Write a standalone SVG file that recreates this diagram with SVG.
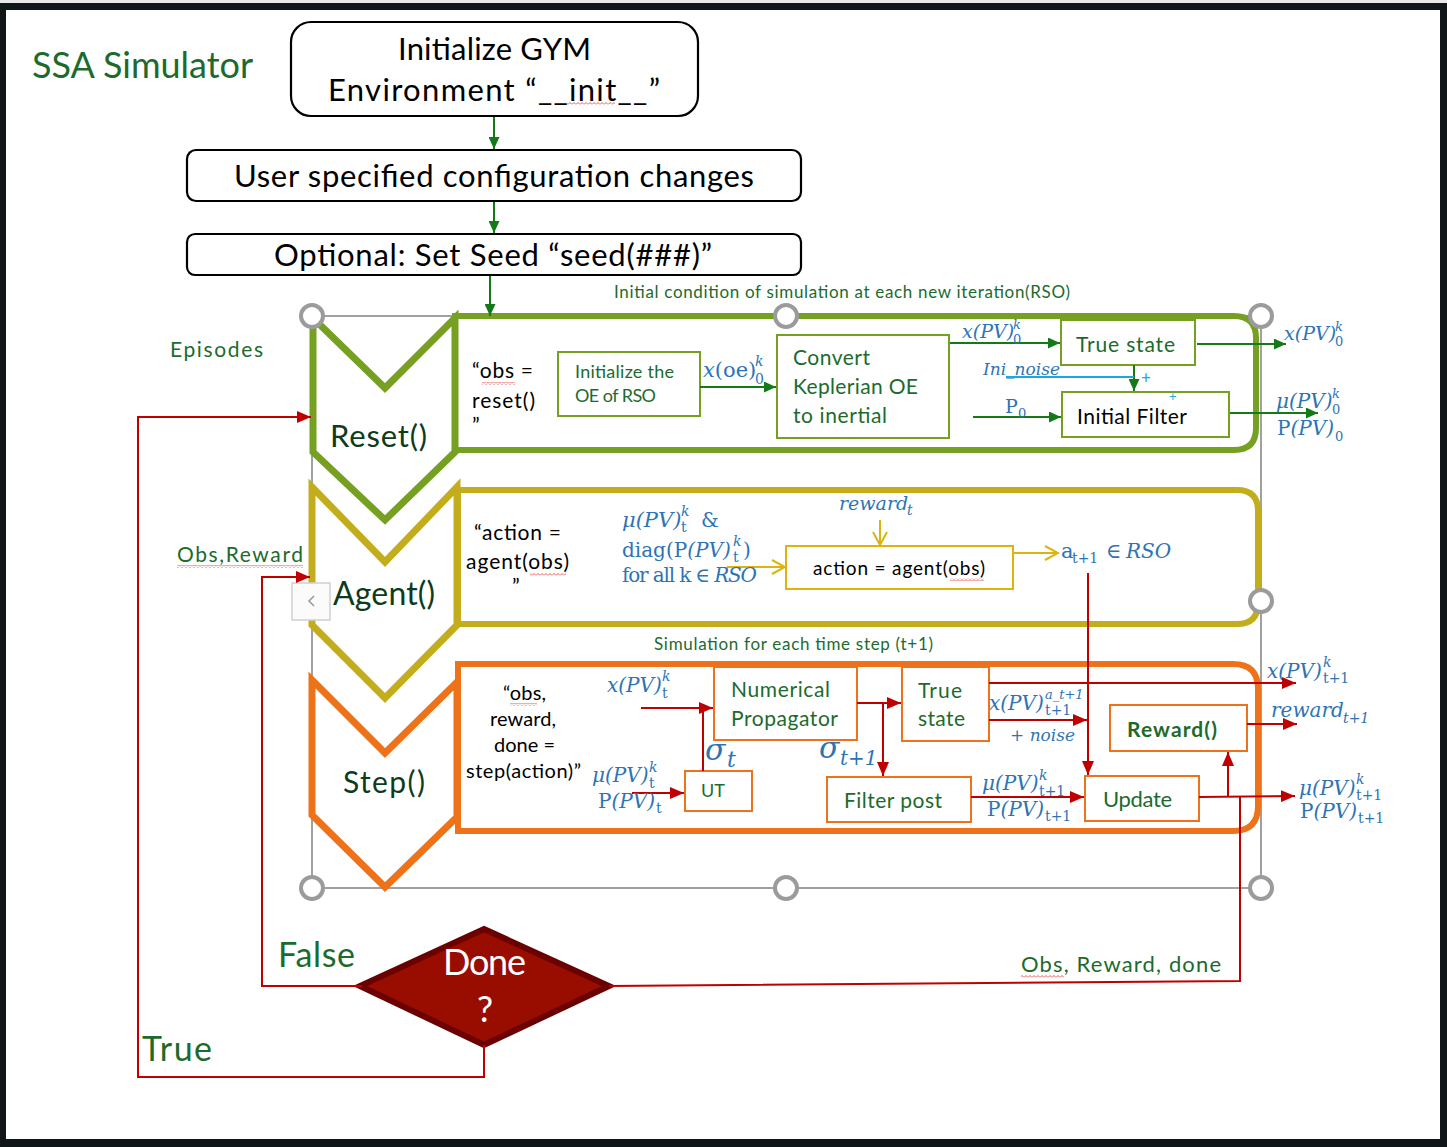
<svg xmlns="http://www.w3.org/2000/svg" width="1447" height="1147" viewBox="0 0 1447 1147">
<defs>
<style>
.t{font-family:Lato,"Liberation Sans",sans-serif}
.gr{fill:#1c6b2d}
.dg{fill:#0d3b1c}
.bk{fill:#000}
.m{font-family:"DejaVu Serif","Liberation Serif",serif;font-style:italic;fill:#2e74b5}
.u{font-style:normal}
.it{font-style:italic}
.gl{stroke:#137a17;stroke-width:2;fill:none}
.rl{stroke:#c00000;stroke-width:2;fill:none}
.yl{stroke:#dcb410;stroke-width:2;fill:none}
.gbox{fill:#fff;stroke:#76a021;stroke-width:2}
.obox{fill:#fff;stroke:#ee7219;stroke-width:2}
.hd{fill:#fff;stroke:#9b9b9b;stroke-width:4}
.wv{fill:url(#wv)}
</style>
<marker id="ag" viewBox="0 0 12 11" refX="12" refY="5.5" markerWidth="12" markerHeight="11" markerUnits="userSpaceOnUse" orient="auto"><path d="M0,0 L12,5.5 L0,11 z" fill="#137a17"/></marker>
<marker id="ar" viewBox="0 0 14 12" refX="14" refY="6" markerWidth="14" markerHeight="12" markerUnits="userSpaceOnUse" orient="auto"><path d="M0,0 L14,6 L0,12 z" fill="#c00000"/></marker>
<marker id="ay" viewBox="0 0 16 16" refX="14" refY="8" markerWidth="16" markerHeight="16" markerUnits="userSpaceOnUse" orient="auto"><path d="M1,1 L14,8 L1,15" fill="none" stroke="#dcb410" stroke-width="2"/></marker>
<pattern id="wv" width="4" height="3" patternUnits="userSpaceOnUse"><path d="M0,2.5 L2,0.5 L4,2.5" fill="none" stroke="#e03030" stroke-width="0.8"/></pattern>
</defs>

<g id="frame">
<rect x="0" y="0" width="1447" height="1147" fill="#e8e8e8"/>
<rect x="0" y="3" width="1447" height="1144" fill="#101518"/>
<rect x="6" y="10" width="1434" height="1129" fill="#fff"/>
</g>

<g id="title"><text class="t gr" x="32" y="78" font-size="36" textLength="221">SSA Simulator</text></g>

<g id="n-init">
<rect x="291" y="22" width="407" height="94" rx="20" fill="#fff" stroke="#000" stroke-width="2.2"/>
<text class="t bk" x="398" y="60" font-size="31" textLength="193">Initialize GYM</text>
<text class="t bk" x="328" y="101" font-size="31" textLength="332">Environment “__init__”</text>
<rect class="wv" x="567" y="102" width="48" height="3"/>
</g>
<g id="n-config">
<rect x="187" y="150" width="614" height="51" rx="9" fill="#fff" stroke="#000" stroke-width="2.2"/>
<text class="t bk" x="234" y="187" font-size="31" textLength="520">User specified configuration changes</text>
</g>
<g id="n-seed">
<rect x="187" y="234" width="614" height="41" rx="8" fill="#fff" stroke="#000" stroke-width="2.2"/>
<text class="t bk" x="274" y="266" font-size="31" textLength="438">Optional: Set Seed “seed(###)”</text>
</g>

<g id="labels">
<text class="t gr" x="614" y="298" font-size="17" textLength="456">Initial condition of simulation at each new iteration(RSO)</text>
<text class="t gr" x="170" y="357" font-size="21" textLength="93">Episodes</text>
<text class="t gr" x="177" y="562" font-size="21" textLength="126">Obs,Reward</text>
<rect class="wv" x="177" y="565" width="126" height="3"/>
<text class="t gr" x="654" y="650" font-size="17" textLength="279">Simulation for each time step (t+1)</text>
<text class="t gr" x="278" y="967" font-size="34" textLength="77">False</text>
<text class="t gr" x="142" y="1061" font-size="34" textLength="70">True</text>
<text class="t gr" x="1021" y="972" font-size="22" textLength="200">Obs, Reward, done</text>
<rect class="wv" x="1021" y="975" width="43" height="3"/>
</g>

<g id="selection-frame">
<rect x="312" y="316" width="949" height="572" fill="none" stroke="#a0a0a0" stroke-width="2"/>
</g>

<g id="c-reset">
<path d="M455,316 H1234 Q1256,316 1256,338 V428 Q1256,450 1234,450 H455 Z" fill="#fff" stroke="#76a021" stroke-width="6"/>
</g>
<g id="c-agent">
<path d="M458,490 H1237 Q1258,490 1258,511 V603 Q1258,624 1237,624 H458 Z" fill="#fff" stroke="#c4ad1c" stroke-width="6"/>
</g>
<g id="c-step">
<path d="M458,664 H1233 Q1258,664 1258,689 V806 Q1258,831 1233,831 H458 Z" fill="#fff" stroke="#ee7219" stroke-width="6"/>
</g>

<g id="n-reset">
<polygon points="313,318 385,388 455,318 455,452 385,520 313,452" fill="none" stroke="#76a021" stroke-width="7" stroke-linejoin="miter"/>
<text class="t dg" x="330" y="447" font-size="31" textLength="97">Reset()</text>
</g>
<g id="n-agent">
<polygon points="312,487 385,562 457,487 457,625 385,698 312,625" fill="none" stroke="#c4ad1c" stroke-width="7"/>
<text class="t dg" x="333" y="605" font-size="32" textLength="102">Agent()</text>
</g>
<g id="n-step">
<polygon points="312,680 385,753 457,682 457,817 385,887 312,815" fill="none" stroke="#ee7219" stroke-width="7"/>
<text class="t dg" x="343" y="793" font-size="30" textLength="82">Step()</text>
</g>

<g id="n-reset-call">
<text class="t bk" x="472" y="378" font-size="21" textLength="61">“obs =</text>
<rect class="wv" x="482" y="382" width="33" height="3"/>
<text class="t bk" x="472" y="408" font-size="21" textLength="63">reset()</text>
<text class="t bk" x="472" y="433" font-size="21">”</text>
</g>
<g id="n-init-oe">
<rect class="gbox" x="558" y="352" width="142" height="64"/>
<text class="t gr" x="575" y="378" font-size="18" textLength="99">Initialize the</text>
<text class="t gr" x="575" y="402" font-size="18" textLength="81">OE of RSO</text>
</g>
<g id="n-convert">
<rect class="gbox" x="777" y="335" width="172" height="103"/>
<text class="t gr" x="793" y="365" font-size="21" textLength="77">Convert</text>
<text class="t gr" x="793" y="394" font-size="21" textLength="125">Keplerian OE</text>
<text class="t gr" x="793" y="423" font-size="21" textLength="94">to inertial</text>
</g>
<g id="n-true-state-0">
<rect class="gbox" x="1061" y="320" width="134" height="45"/>
<text class="t gr" x="1076" y="352" font-size="21" textLength="99">True state</text>
</g>
<g id="n-initial-filter">
<rect class="gbox" x="1062" y="392" width="167" height="45"/>
<text class="t bk" x="1077" y="424" font-size="21" textLength="110">Initial Filter</text>
</g>

<g id="n-agent-call">
<text class="t bk" x="474" y="540" font-size="21" textLength="87">“action =</text>
<text class="t bk" x="466" y="569" font-size="21" textLength="103">agent(obs)</text>
<rect class="wv" x="530" y="573" width="36" height="3"/>
<text class="t bk" x="512" y="594" font-size="21">”</text>
</g>
<g id="n-action-box">
<rect x="786" y="546" width="227" height="43" fill="#fff" stroke="#dcb410" stroke-width="2"/>
<text class="t bk" x="813" y="575" font-size="19" textLength="172">action = agent(obs)</text>
<rect class="wv" x="950" y="578" width="34" height="3"/>
</g>
<g id="n-collapse">
<rect x="292" y="583" width="38" height="37" fill="#fbfbfb" stroke="#d0d0d0" stroke-width="1.5"/>
<polyline points="314,596 309,601 314,606" fill="none" stroke="#9a9a9a" stroke-width="1.6"/>
</g>

<g id="n-step-call">
<text class="t bk" x="503" y="700" font-size="20" textLength="43">“obs,</text>
<rect class="wv" x="510" y="703" width="27" height="3"/>
<text class="t bk" x="490" y="726" font-size="20" textLength="66">reward,</text>
<text class="t bk" x="494" y="752" font-size="20" textLength="61">done =</text>
<text class="t bk" x="466" y="778" font-size="20" textLength="115">step(action)”</text>
</g>
<g id="n-numprop">
<rect class="obox" x="714" y="667" width="143" height="73"/>
<text class="t gr" x="731" y="697" font-size="21" textLength="99">Numerical</text>
<text class="t gr" x="731" y="726" font-size="21" textLength="107">Propagator</text>
</g>
<g id="n-ut">
<rect class="obox" x="685" y="771" width="67" height="40"/>
<text class="t gr" x="701" y="797" font-size="18">UT</text>
</g>
<g id="n-true-state">
<rect class="obox" x="902" y="667" width="87" height="74"/>
<text class="t gr" x="918" y="698" font-size="21" textLength="44">True</text>
<text class="t gr" x="918" y="726" font-size="21" textLength="47">state</text>
</g>
<g id="n-filter-post">
<rect class="obox" x="827" y="777" width="144" height="45"/>
<text class="t gr" x="844" y="808" font-size="21" textLength="98">Filter post</text>
</g>
<g id="n-update">
<rect class="obox" x="1085" y="776" width="114" height="45"/>
<text class="t gr" x="1103" y="807" font-size="22" textLength="69">Update</text>
</g>
<g id="n-reward-fn">
<rect class="obox" x="1110" y="705" width="137" height="46"/>
<text class="t gr" x="1127" y="737" font-size="21" font-weight="bold" textLength="90">Reward()</text>
</g>

<g id="n-done">
<polygon points="484,929 609,986 484,1045 360,986" fill="#990c00" stroke="#6a0000" stroke-width="6" stroke-linejoin="miter"/>
<text class="t" x="443" y="975" font-size="36" fill="#fff" textLength="83">Done</text>
<text class="t" x="485" y="1022" font-size="36" fill="#fff" text-anchor="middle">?</text>
</g>

<g id="connectors">
<line class="gl" x1="494" y1="117" x2="494" y2="149" marker-end="url(#ag)"/>
<line class="gl" x1="494" y1="202" x2="494" y2="233" marker-end="url(#ag)"/>
<line class="gl" x1="490" y1="276" x2="490" y2="316" marker-end="url(#ag)"/>
<line class="gl" x1="700" y1="387" x2="776" y2="387" marker-end="url(#ag)"/>
<line class="gl" x1="950" y1="343" x2="1060" y2="343" marker-end="url(#ag)"/>
<line class="gl" x1="1197" y1="344" x2="1286" y2="344" marker-end="url(#ag)"/>
<line class="gl" x1="1134" y1="365" x2="1134" y2="391" marker-end="url(#ag)"/>
<line x1="1006" y1="377" x2="1134" y2="377" stroke="#1aa7e8" stroke-width="2"/>
<line class="gl" x1="973" y1="417" x2="1061" y2="417" marker-end="url(#ag)"/>
<line class="gl" x1="1230" y1="413" x2="1318" y2="413" marker-end="url(#ag)"/>

<line class="yl" x1="727" y1="567" x2="785" y2="567" marker-end="url(#ay)"/>
<line class="yl" x1="880" y1="520" x2="880" y2="545" marker-end="url(#ay)"/>
<line class="yl" x1="1013" y1="553" x2="1058" y2="553" marker-end="url(#ay)"/>

<line class="rl" x1="1088" y1="573" x2="1088" y2="775" marker-end="url(#ar)"/>
<line class="rl" x1="641" y1="708" x2="713" y2="708" marker-end="url(#ar)"/>
<line class="rl" x1="703" y1="771" x2="703" y2="708"/>
<line class="rl" x1="632" y1="793" x2="684" y2="793" marker-end="url(#ar)"/>
<line class="rl" x1="857" y1="703" x2="901" y2="703" marker-end="url(#ar)"/>
<line class="rl" x1="883" y1="703" x2="883" y2="776" marker-end="url(#ar)"/>
<line class="rl" x1="989" y1="683" x2="1296" y2="683" marker-end="url(#ar)"/>
<line class="rl" x1="989" y1="720" x2="1087" y2="720" marker-end="url(#ar)"/>
<line class="rl" x1="1247" y1="724" x2="1297" y2="724" marker-end="url(#ar)"/>
<line class="rl" x1="971" y1="797" x2="1084" y2="797" marker-end="url(#ar)"/>
<line class="rl" x1="1199" y1="797" x2="1295" y2="796" marker-end="url(#ar)"/>
<line class="rl" x1="1228" y1="797" x2="1228" y2="752" marker-end="url(#ar)"/>
<polyline class="rl" points="1240,797 1240,981 609,986"/>
<polyline class="rl" points="362,986 262,986 262,577 310,577" marker-end="url(#ar)"/>
<polyline class="rl" points="484,1045 484,1077 138,1077 138,417 311,417" marker-end="url(#ar)"/>
</g>

<g id="handles">
<circle class="hd" cx="312" cy="316" r="11"/>
<circle class="hd" cx="786" cy="316" r="11"/>
<circle class="hd" cx="1261" cy="316" r="11"/>
<circle class="hd" cx="1261" cy="601" r="11"/>
<circle class="hd" cx="1261" cy="888" r="11"/>
<circle class="hd" cx="786" cy="888" r="11"/>
<circle class="hd" cx="312" cy="888" r="11"/>
</g>

<g id="math-labels">
<text class="m" x="703" y="377" font-size="21">x<tspan class="u">(oe)</tspan><tspan x="755" y="366" font-size="14">k</tspan><tspan class="u" x="755" y="384" font-size="14">0</tspan></text>
<text class="m" x="962" y="338" font-size="19">x(PV)<tspan x="1013" y="329" font-size="13">k</tspan><tspan class="u" x="1013" y="344" font-size="13">0</tspan></text>
<text class="m" x="1284" y="340" font-size="19">x(PV)<tspan x="1335" y="331" font-size="13">k</tspan><tspan class="u" x="1335" y="346" font-size="13">0</tspan></text>
<text class="m" x="983" y="375" font-size="17">Ini_noise</text>
<text x="1141" y="384" font-size="17" fill="#1aa7e8" font-family="Lato,sans-serif">+</text>
<text x="1169" y="401" font-size="13" fill="#1aa7e8" font-family="Lato,sans-serif">+</text>
<text class="m u" x="1005" y="413" font-size="19">P<tspan x="1018" y="418" font-size="13">0</tspan></text>
<text class="m" x="1276" y="408" font-size="20">μ(PV)<tspan x="1332" y="398" font-size="13">k</tspan><tspan class="u" x="1332" y="414" font-size="13">0</tspan></text>
<text class="m" x="1277" y="435" font-size="20"><tspan class="u">P</tspan>(PV)<tspan class="u" x="1335" y="441" font-size="13">0</tspan></text>

<text class="m" x="622" y="527" font-size="21">μ(PV)<tspan x="681" y="516" font-size="14">k</tspan><tspan class="u" x="681" y="532" font-size="14">t</tspan><tspan class="u" x="701" y="527" font-size="20">&amp;</tspan></text>
<text class="m" x="622" y="557" font-size="20"><tspan class="u">diag(P</tspan>(PV)<tspan x="733" y="546" font-size="14">k</tspan><tspan class="u" x="733" y="562" font-size="14">t</tspan><tspan class="u" x="743" y="557" font-size="20">)</tspan></text>
<text class="m u" x="622" y="582" font-size="20" textLength="135">for all k ∈ <tspan class="it">RSO</tspan></text>
<text class="m" x="839" y="510" font-size="19">reward<tspan x="907" y="515" font-size="14">t</tspan></text>
<text class="m" x="1061" y="558" font-size="21"><tspan class="u">a</tspan><tspan class="u" x="1072" y="563" font-size="14">t+1</tspan><tspan class="u" x="1106" y="558" font-size="21">∈</tspan><tspan x="1126" y="558" font-size="20">RSO</tspan></text>

<text class="m" x="607" y="692" font-size="20">x(PV)<tspan x="662" y="681" font-size="14">k</tspan><tspan class="u" x="662" y="698" font-size="14">t</tspan></text>
<text class="m" x="705" y="760" font-size="30">σ<tspan x="727" y="767" font-size="22">t</tspan></text>
<text class="m" x="819" y="758" font-size="30">σ<tspan x="840" y="765" font-size="20">t+1</tspan></text>
<text class="m" x="592" y="782" font-size="20">μ(PV)<tspan x="649" y="772" font-size="14">k</tspan><tspan class="u" x="649" y="788" font-size="14">t</tspan></text>
<text class="m" x="598" y="808" font-size="20"><tspan class="u">P</tspan>(PV)<tspan class="u" x="656" y="813" font-size="14">t</tspan></text>
<text class="m" x="1267" y="678" font-size="20">x(PV)<tspan x="1323" y="667" font-size="14">k</tspan><tspan class="u" x="1323" y="683" font-size="14">t+1</tspan></text>
<text class="m" x="1271" y="717" font-size="20">reward<tspan x="1343" y="723" font-size="14">t+1</tspan></text>
<text class="m" x="989" y="710" font-size="20">x(PV)<tspan x="1045" y="699" font-size="13">a_t+1</tspan><tspan class="u" x="1045" y="715" font-size="14">t+1</tspan></text>
<text class="m" x="1010" y="741" font-size="17"><tspan class="u">+ </tspan>noise</text>
<text class="m" x="982" y="790" font-size="20">μ(PV)<tspan x="1039" y="780" font-size="14">k</tspan><tspan class="u" x="1039" y="796" font-size="14">t+1</tspan></text>
<text class="m" x="987" y="816" font-size="20"><tspan class="u">P</tspan>(PV)<tspan class="u" x="1045" y="821" font-size="14">t+1</tspan></text>
<text class="m" x="1299" y="795" font-size="20">μ(PV)<tspan x="1356" y="784" font-size="14">k</tspan><tspan class="u" x="1356" y="800" font-size="14">t+1</tspan></text>
<text class="m" x="1300" y="818" font-size="20"><tspan class="u">P</tspan>(PV)<tspan class="u" x="1358" y="823" font-size="14">t+1</tspan></text>
</g>
</svg>
